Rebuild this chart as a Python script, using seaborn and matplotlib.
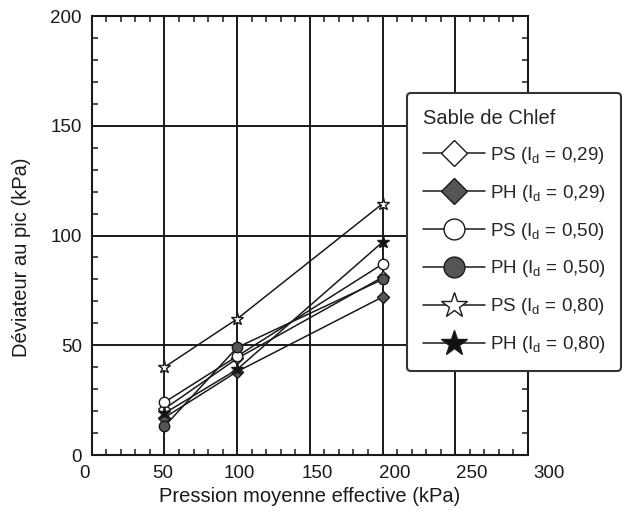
import numpy as np
import pandas as pd
import matplotlib
matplotlib.use("Agg")
import matplotlib.pyplot as plt
import seaborn as sns

# ---- data ----
pressure = [50, 100, 200]  # Pression moyenne effective (kPa)
ps_029 = [21, 44, 81]
ph_029 = [17, 38, 72]
ps_050 = [24, 45, 87]
ph_050 = [13, 49, 80]
ps_080 = [40, 62, 114.5]
ph_080 = [19, 39, 97]

series_labels = [
    "PS (I$_\\mathregular{d}$ = 0,29)",
    "PH (I$_\\mathregular{d}$ = 0,29)",
    "PS (I$_\\mathregular{d}$ = 0,50)",
    "PH (I$_\\mathregular{d}$ = 0,50)",
    "PS (I$_\\mathregular{d}$ = 0,80)",
    "PH (I$_\\mathregular{d}$ = 0,80)",
]
series_values = [ps_029, ph_029, ps_050, ph_050, ps_080, ph_080]
x_ticks = [0, 50, 100, 150, 200, 250, 300]
y_ticks = [0, 50, 100, 150, 200]
legend_title = "Sable de Chlef"
x_label = "Pression moyenne effective (kPa)"
y_label = "Déviateur au pic (kPa)"

# ---- styles ----
marker_styles = [
    dict(marker="D", markerfacecolor="white", markersize=6.5),
    dict(marker="D", markerfacecolor="#555555", markersize=6.5),
    dict(marker="o", markerfacecolor="white", markersize=7.5),
    dict(marker="o", markerfacecolor="#555555", markersize=7.5),
    dict(marker="*", markerfacecolor="white", markersize=9.5),
    dict(marker="*", markerfacecolor="#111111", markersize=9.5),
]

sns.set_theme(style="white")
plt.rcParams["font.family"] = ["Liberation Sans", "DejaVu Sans"]
plt.rcParams["mathtext.fontset"] = "custom"
plt.rcParams["mathtext.rm"] = "Liberation Sans"

W, H = 630, 517
fig = plt.figure(figsize=(W / 100, H / 100), dpi=100)
fig.patch.set_facecolor("white")

x0, x1, y0, y1 = 91.7, 528, 16, 455
ax = fig.add_axes([x0 / W, 1 - y1 / H, (x1 - x0) / W, (y1 - y0) / H])
ax.set_facecolor("white")

ink = "#1a1a1a"
for lab, vals, st in zip(series_labels, series_values, marker_styles):
    df = pd.DataFrame({"p": pressure, "q": vals})
    sns.lineplot(data=df, x="p", y="q", ax=ax, color=ink, linewidth=1.1,
                 markeredgecolor=ink, markeredgewidth=1.0, label=lab,
                 zorder=3, **st)

ax.set_xlim(0, 300)
ax.set_ylim(0, 200)
ax.set_xticks(x_ticks)
ax.set_xticklabels([])
ax.set_yticks(y_ticks)
ax.set_xticks(np.arange(0, 301, 10), minor=True)
ax.set_yticks(np.arange(0, 201, 10), minor=True)
ax.tick_params(which="major", length=0, labelsize=13.5, colors=ink, pad=7)
ax.tick_params(which="minor", direction="in", length=4, width=1.1, color=ink,
               top=True, right=True, bottom=True, left=True)
ax.grid(which="major", color=ink, linewidth=1.4)
ax.grid(which="minor", visible=False)
for s in ax.spines.values():
    s.set_visible(True)
    s.set_color(ink)
    s.set_linewidth(1.5)

ax.set_xlabel(x_label, fontsize=14.5, color=ink)
ax.xaxis.set_label_coords(0.5, -(497 - y1) / (y1 - y0), transform=ax.transAxes)
ax.xaxis.label.set_va("center")
ax.set_ylabel(y_label, fontsize=14.5, color=ink)
ax.yaxis.set_label_coords(-(x0 - 22) / (x1 - x0), 0.45, transform=ax.transAxes)
ax.yaxis.label.set_va("center")

# x tick labels (drawn on a slightly wider scale, as in the scanned figure)
lx0, lx1 = 85, 549
ax2 = fig.add_axes([lx0 / W, 1 - y1 / H, (lx1 - lx0) / W, 0.001])
ax2.patch.set_visible(False)
for s in ax2.spines.values():
    s.set_visible(False)
ax2.set_xlim(0, 300)
ax2.set_xticks(x_ticks)
ax2.set_xticklabels([str(v) for v in x_ticks])
ax2.set_yticks([])
ax2.tick_params(axis="x", length=0, labelsize=13.5, colors=ink, pad=7)
ax2.grid(False)

leg = ax.legend(title=legend_title, loc="upper left",
                bbox_to_anchor=(407 / W, 1 - 93 / H), bbox_transform=fig.transFigure,
                borderaxespad=0, fontsize=13.5, title_fontsize=14.5, markerscale=2.0,
                handlelength=3.3, handletextpad=0.25, labelspacing=0.9,
                borderpad=0.85, frameon=True, fancybox=True, framealpha=1,
                alignment="left")
leg.get_frame().set_edgecolor("#333333")
leg.get_frame().set_linewidth(1.5)
leg.set_zorder(10)

fig.savefig("out.png", dpi=100, facecolor="white")
